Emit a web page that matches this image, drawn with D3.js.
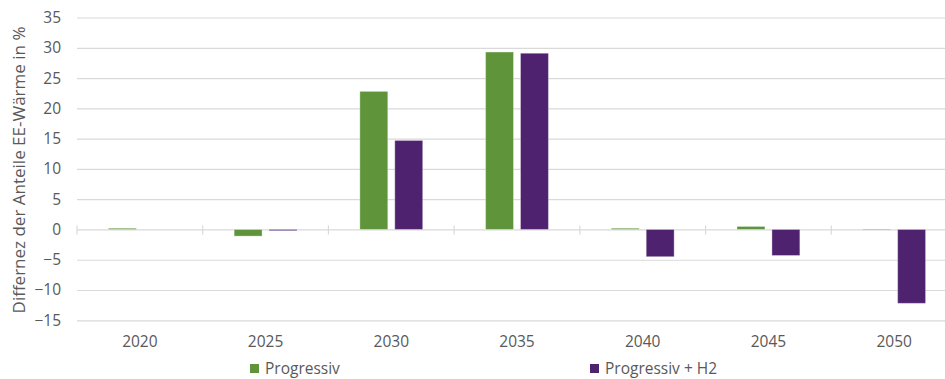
<!DOCTYPE html>
<html><head><meta charset="utf-8">
<script src="https://cdn.jsdelivr.net/npm/d3@7"></script>
<style>body{margin:0;background:#fff;}svg{display:block;font-family:"Open Sans",sans-serif;}</style>
</head><body><svg id="c" width="945" height="379"></svg>
<script>
const categories = ["2020","2025","2030","2035","2040","2045","2050"];
const seriesNames = ["Progressiv","Progressiv + H2"];
const progressiv = [0.2, -1.1, 22.8, 29.3, 0.2, 0.5, -0.1];
const progressivH2 = [0, -0.2, 14.7, 29.1, -4.5, -4.3, -12.2];
const yTicks = [-15,-10,-5,0,5,10,15,20,25,30,35];
const colors = ["#5F943B","#4E226E"];
const yTitle = "Differnez der Anteile EE-Wärme in %";

const svg = d3.select("#c");
const x0 = d3.scaleBand().domain(categories).range([77, 957]).paddingInner(0.5).paddingOuter(0.25);
const x1 = d3.scaleBand().domain(seriesNames).range([0, x0.bandwidth()]).paddingInner(0.2);
const y = d3.scaleLinear().domain([-15, 35]).range([320.3, 17.5]);
const color = d3.scaleOrdinal().domain(seriesNames).range(colors);

// gridlines
const yAxis = d3.axisLeft(y).tickValues(yTicks).tickSize(-(957-77)).tickPadding(16);
const gy = svg.append("g").attr("transform","translate(77,0)").call(yAxis);
gy.select(".domain").remove();
gy.selectAll(".tick line").attr("stroke","#d9d9d9").attr("stroke-width",1.2);
gy.selectAll(".tick text").attr("fill","#595959").style("font-size","15.5px").style("font-family","'Open Sans',sans-serif");

// zero axis with category boundary ticks
const step = x0.step();
const bounds = d3.range(categories.length + 1).map(i => 77 + i*step);
svg.append("g").selectAll("line").data(bounds).join("line")
  .attr("x1", d=>d).attr("x2", d=>d).attr("y1", y(0)-4).attr("y2", y(0)+5)
  .attr("stroke","#d9d9d9").attr("stroke-width",1.2);

// bars
const data = categories.map((c,i)=>({cat:c, vals:[{s:seriesNames[0], v:progressiv[i]},{s:seriesNames[1], v:progressivH2[i]}]}));
const g = svg.append("g");
g.selectAll("g").data(data).join("g")
  .attr("transform", d=>`translate(${x0(d.cat)},0)`)
  .selectAll("rect").data(d=>d.vals).join("rect")
  .attr("x", d=>x1(d.s))
  .attr("width", x1.bandwidth())
  .attr("y", d=>y(Math.max(0,d.v)))
  .attr("height", d=>Math.abs(y(d.v)-y(0)))
  .attr("fill", d=>color(d.s))
  .attr("stroke", "rgba(255,255,255,0.35)")
  .attr("stroke-width", 1);

// x labels
svg.append("g").selectAll("text").data(categories).join("text")
  .attr("x", d=>x0(d)+x0.bandwidth()/2)
  .attr("y", 347)
  .attr("text-anchor","middle")
  .attr("fill","#595959")
  .style("font-size","15.5px")
  .text(d=>d);

// y title
svg.append("text")
  .attr("transform","translate(25,170) rotate(-90)")
  .attr("text-anchor","middle")
  .attr("fill","#595959")
  .style("font-size","17px")
  .text(yTitle);

// legend
const legX = [250, 590];
const leg = svg.append("g").selectAll("g").data(seriesNames).join("g")
  .attr("transform",(d,i)=>`translate(${legX[i]},0)`);
leg.append("rect").attr("x",0).attr("y",364).attr("width",9).attr("height",9).attr("fill",d=>color(d));
leg.append("text").attr("x",15).attr("y",374).attr("fill","#595959").style("font-size","15.5px").text(d=>d);
</script></body></html>
